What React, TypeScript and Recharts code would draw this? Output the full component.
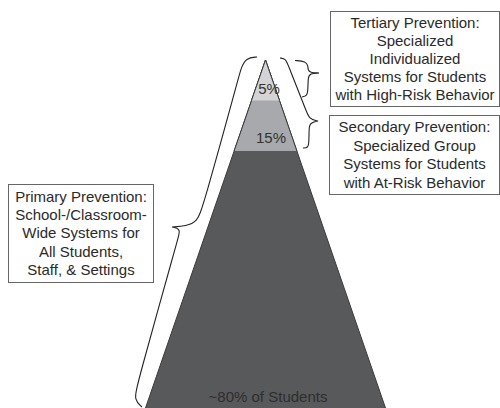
import React from 'react';
import { ComposedChart, Area, Line, XAxis, YAxis, ReferenceDot } from 'recharts';

// Pyramid tiers: outline points (x across, y down from top)
const pyramidX = [145.5, 234.1, 251.5, 265.5, 279.5, 296.9, 385.5];
const baseTier = [408, null, null, 60, null, null, 408];
const midTier = [null, 151, null, 60, null, 151, null];
const topTier = [null, null, 100.5, 60, 100.5, null, null];

const tierBases = { base: 408, mid: 151, top: 100.5 };
const tierColors = { base: '#58595b', mid: '#a7a9ac', top: '#d4d4d6' };

// tier labels
const tierLabels = ['5%', '15%', '~80% of Students'];
const tierLabelX = [269, 271, 268];
const tierLabelY = [89, 138, 397];

// braces drawn as smoothed point lists
const tertiaryBrace = [
    { x: 295, y: 60.5 }, { x: 306, y: 61.5 }, { x: 308, y: 66 }, { x: 308, y: 70 },
    { x: 310, y: 72.5 }, { x: 319, y: 73 }, { x: 319, y: 73 }, { x: 319, y: 73 },
    { x: 310, y: 73.5 }, { x: 308, y: 77 }, { x: 308, y: 90 }, { x: 307, y: 96 }, { x: 302, y: 97 },
];
const secondaryBrace = [
    { x: 280, y: 58 }, { x: 286, y: 59 }, { x: 288, y: 65 }, { x: 306, y: 110 },
    { x: 309, y: 119 }, { x: 318, y: 121 }, { x: 318, y: 121 }, { x: 318, y: 121 },
    { x: 310, y: 123 }, { x: 309, y: 128 }, { x: 309, y: 142 }, { x: 308, y: 148 }, { x: 303, y: 148 },
];
const primaryBrace = [
    { x: 257, y: 57 }, { x: 246, y: 58 }, { x: 241, y: 68 }, { x: 238, y: 80 },
    { x: 203, y: 207 }, { x: 197, y: 222 }, { x: 186, y: 226 },
    { x: 172, y: 227 }, { x: 172, y: 227 }, { x: 172, y: 227 },
    { x: 181, y: 229 }, { x: 178, y: 238 }, { x: 137, y: 385 }, { x: 134, y: 400 }, { x: 142, y: 407 },
];

const tertiaryText = ['Tertiary Prevention:', 'Specialized', 'Individualized', 'Systems for Students', 'with High-Risk Behavior'];
const secondaryText = ['Secondary Prevention:', 'Specialized Group', 'Systems for Students', 'with At-Risk Behavior'];
const primaryText = ['Primary Prevention:', 'School-/Classroom-', 'Wide Systems for', 'All Students,', 'Staff, & Settings'];

const pyramidData = pyramidX.map((x, i) => ({
    x,
    base: baseTier[i],
    mid: midTier[i],
    top: topTier[i],
}));

function TextBox({ lines, left, top, width, height, lineHeight }: {
    lines: string[];
    left: number;
    top: number;
    width: number;
    height: number;
    lineHeight: number;
}) {
    return (
        <div
            style={{
                position: 'absolute',
                left,
                top,
                width,
                height,
                boxSizing: 'border-box',
                border: '1px solid #666',
                background: '#fff',
                display: 'flex',
                flexDirection: 'column',
                justifyContent: 'center',
                alignItems: 'center',
                fontSize: 15,
                lineHeight: `${lineHeight}px`,
                color: '#2a2a2a',
                whiteSpace: 'nowrap',
            }}
        >
            {lines.map((l) => (
                <div key={l}>{l}</div>
            ))}
        </div>
    );
}

export default function App() {
    return (
        <div
            style={{
                position: 'absolute',
                left: 0,
                top: 0,
                width: 500,
                height: 408,
                background: '#fff',
                fontFamily: '"Liberation Sans", Arial, sans-serif',
                overflow: 'hidden',
            }}
        >
            <ComposedChart
                width={500}
                height={408}
                data={pyramidData}
                margin={{ top: 0, right: 0, bottom: 0, left: 0 }}
            >
                <XAxis type="number" dataKey="x" domain={[0, 500]} hide allowDataOverflow />
                <YAxis type="number" domain={[0, 408]} reversed hide allowDataOverflow width={0} />
                <Area
                    type="linear"
                    dataKey="base"
                    baseValue={tierBases.base}
                    fill={tierColors.base}
                    fillOpacity={1}
                    stroke="#3a3a3a"
                    strokeWidth={1}
                    connectNulls
                    isAnimationActive={false}
                />
                <Area
                    type="linear"
                    dataKey="mid"
                    baseValue={tierBases.mid}
                    fill={tierColors.mid}
                    fillOpacity={1}
                    stroke="#3a3a3a"
                    strokeWidth={1}
                    connectNulls
                    isAnimationActive={false}
                />
                <Area
                    type="linear"
                    dataKey="top"
                    baseValue={tierBases.top}
                    fill={tierColors.top}
                    fillOpacity={1}
                    stroke="#3a3a3a"
                    strokeWidth={1}
                    connectNulls
                    isAnimationActive={false}
                />
                {[tertiaryBrace, secondaryBrace, primaryBrace].map((brace, i) => (
                    <Line
                        key={`brace-${i}`}
                        data={brace}
                        dataKey="y"
                        type="basis"
                        stroke="#222"
                        strokeWidth={1.1}
                        dot={false}
                        activeDot={false}
                        isAnimationActive={false}
                    />
                ))}
                {tierLabels.map((label, i) => (
                    <ReferenceDot
                        key={label}
                        x={tierLabelX[i]}
                        y={tierLabelY[i]}
                        r={0}
                        stroke="none"
                        fill="none"
                        label={{
                            value: label,
                            position: 'center',
                            fill: i === 2 ? '#2e2e2e' : '#333',
                            fontSize: 15,
                            fontFamily: '"Liberation Sans", Arial, sans-serif',
                        }}
                    />
                ))}
            </ComposedChart>
            <TextBox lines={tertiaryText} left={330} top={11} width={170} height={96} lineHeight={18} />
            <TextBox lines={secondaryText} left={329} top={115} width={171} height={80} lineHeight={18.5} />
            <TextBox lines={primaryText} left={8} top={184} width={146} height={99} lineHeight={18.3} />
        </div>
    );
}
